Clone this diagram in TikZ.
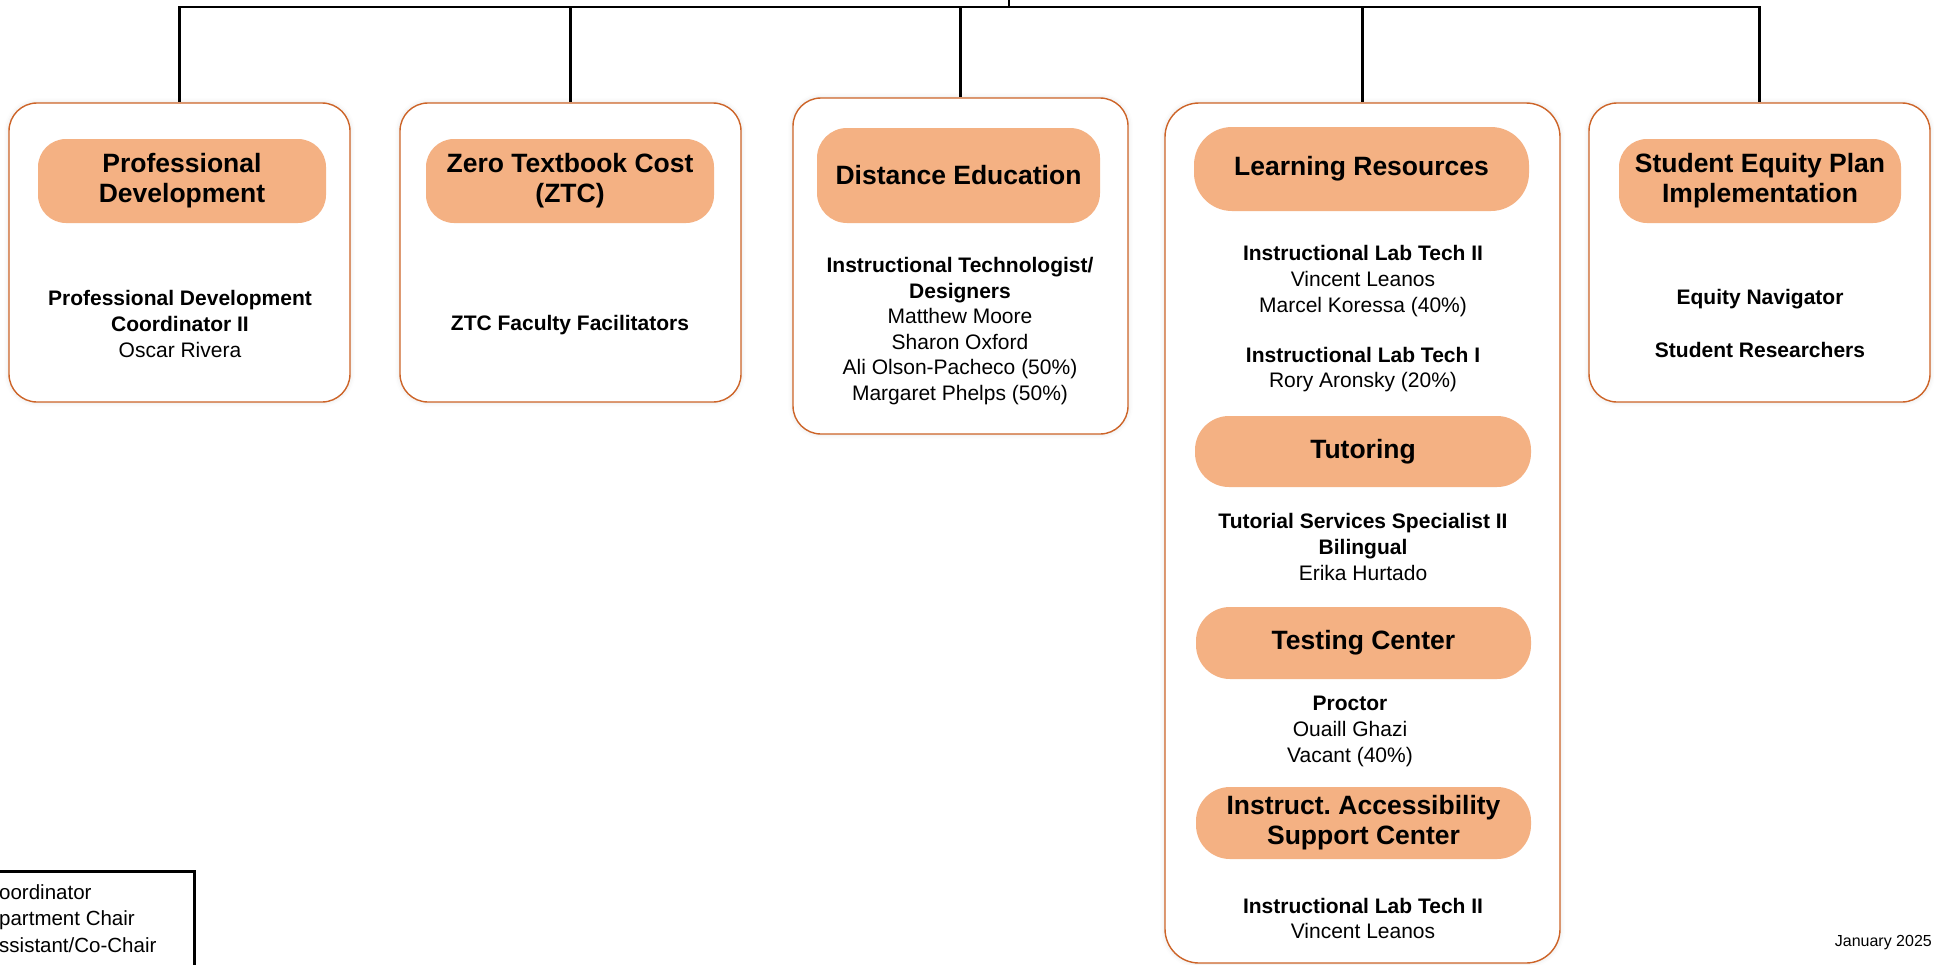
\documentclass[tikz,border=0pt]{standalone}
\usepackage{fontspec}
\setmainfont{Liberation Sans}
\usepackage{tikz}
\usetikzlibrary{backgrounds}
\usetikzlibrary{calc,shadows.blur,fit,positioning}

\definecolor{pillfill}{HTML}{F4B183}
\definecolor{boxline}{RGB}{205,100,40}
\frenchspacing

\begin{document}
\begin{tikzpicture}[x=1pt,y=-1pt]
	\useasboundingbox (0,0) rectangle (1934,964);

	\begin{scope}[every node/.style={draw=boxline,line width=1.4pt,fill=white,
			rounded corners=28pt,inner sep=0pt,
			blur shadow={shadow xshift=0pt,shadow yshift=0pt,shadow blur radius=5pt,shadow opacity=12}}]
		\node[minimum width=341pt,minimum height=299pt] (pd) at (179.5,252.5) {};
		\node[minimum width=341pt,minimum height=299pt] (ztc) at (570.5,252.5) {};
		\node[minimum width=335pt,minimum height=336pt] (de) at (960.5,266) {};
		\node[minimum width=395pt,minimum height=860pt,rounded corners=34pt] (lr) at (1362.5,533) {};
		\node[minimum width=341pt,minimum height=299pt] (sep) at (1759.5,252.5) {};
	\end{scope}

	\begin{scope}[every node/.style={fill=pillfill,inner sep=0pt,align=center,
			font=\fontsize{26.5}{30}\selectfont\bfseries}]
		\node[minimum width=288pt,minimum height=84pt,rounded corners=28pt] (pdH) at (182,181) {Professional\\Development};
		\node[minimum width=288pt,minimum height=84pt,rounded corners=28pt] (ztcH) at (570,181) {Zero Textbook Cost\\(ZTC)};
		\node[minimum width=283pt,minimum height=95pt,rounded corners=30pt] (deH) at (958.5,175.5) {Distance Education};
		\node[minimum width=335pt,minimum height=84pt,rounded corners=38pt] (lrH) at (1361.5,169) {Learning Resources};
		\node[minimum width=336pt,minimum height=71pt,rounded corners=34pt] (tutH) at (1363,451.5) {Tutoring};
		\node[minimum width=335pt,minimum height=72pt,rounded corners=34pt] (testH) at (1363.5,643) {Testing Center};
		\node[minimum width=335pt,minimum height=72pt,rounded corners=34pt] (iascH) at (1363.5,823) {Instruct. Accessibility\\Support Center};
		\node[minimum width=282pt,minimum height=84pt,rounded corners=28pt] (sepH) at (1760,181) {Student Equity Plan\\Implementation};
	\end{scope}

	\begin{scope}[every node/.style={align=center,inner sep=0pt,
			font=\fontsize{21}{25.6}\selectfont}]
		\node (pdB) at (180,324) {\textbf{Professional Development}\\\textbf{Coordinator II}\\Oscar Rivera};
		\node (ztcB) at (570,325) {\textbf{ZTC Faculty Facilitators}};
		\node (deB) at (960,331) {\textbf{Instructional Technologist/}\\\textbf{Designers}\\Matthew Moore\\Sharon Oxford\\Ali Olson-Pacheco (50\%)\\Margaret Phelps (50\%)};
		\node (lrB1) at (1363,281) {\textbf{Instructional Lab Tech II}\\Vincent Leanos\\Marcel Koressa (40\%)};
		\node (lrB2) at (1363,369.5) {\textbf{Instructional Lab Tech I}\\Rory Aronsky (20\%)};
		\node (tutB) at (1363,547) {\textbf{Tutorial Services Specialist II}\\\textbf{Bilingual}\\Erika Hurtado};
		\node (testB) at (1350,731.5) {\textbf{Proctor}\\Ouaill Ghazi\\Vacant (40\%)};
		\node (iascB) at (1363,918.5) {\textbf{Instructional Lab Tech II}\\Vincent Leanos};
		\node (sepB1) at (1760,299) {\textbf{Equity Navigator}};
		\node (sepB2) at (1760,350) {\textbf{Student Researchers}};
	\end{scope}

	\coordinate (root) at (1009,0);
	\foreach \n in {pd,ztc,de,lr,sep}
		\draw[line width=2.2pt] (root) -- ++(0,7) -| (\n.north);

	\draw[line width=3pt] (-2,871) -| (194,968);
	\node[anchor=north west,align=left,inner sep=0pt,font=\fontsize{20.5}{26.5}\selectfont] (legend) at (-1,884) {oordinator\\partment Chair\\ssistant/Co-Chair};

	\node[anchor=east,inner sep=0pt,font=\fontsize{16}{19}\selectfont] (date) at (1932,943) {January 2025};
\end{tikzpicture}
\end{document}
